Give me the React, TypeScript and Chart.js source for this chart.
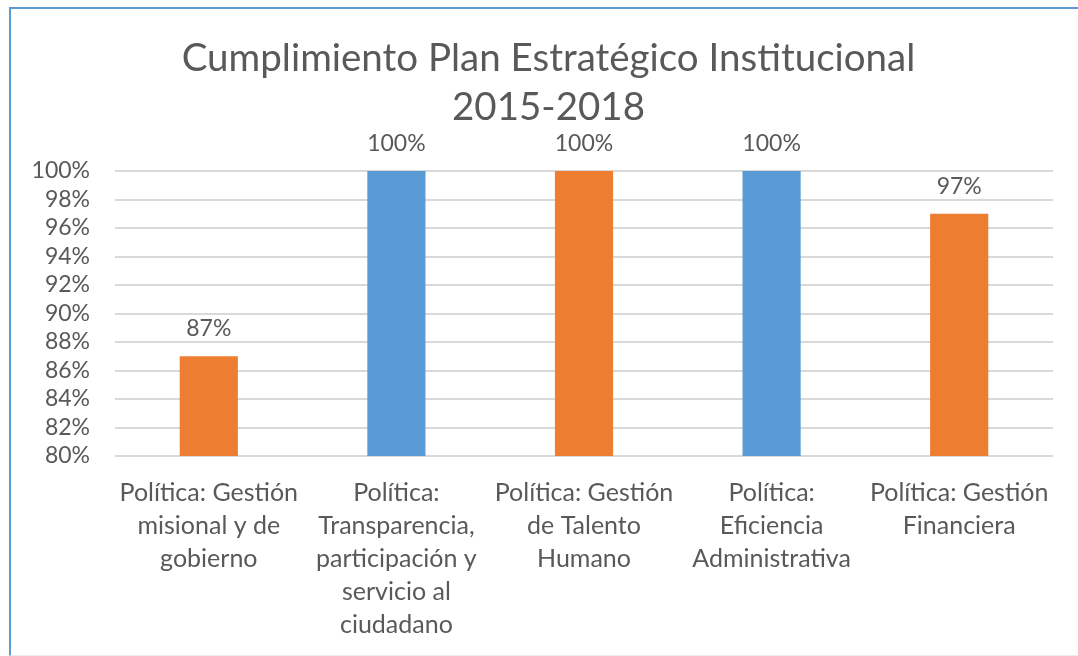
import React, { useEffect, useRef } from 'react';
import { Chart, registerables } from 'chart.js';

Chart.register(...registerables);

const titleLines = ['Cumplimiento Plan Estratégico Institucional', '2015-2018'];
const categories = [
  ['Política: Gestión', 'misional y de', 'gobierno'],
  ['Política:', 'Transparencia,', 'participación y', 'servicio al', 'ciudadano'],
  ['Política: Gestión', 'de Talento', 'Humano'],
  ['Política:', 'Eficiencia', 'Administrativa'],
  ['Política: Gestión', 'Financiera'],
];
const values = [87, 100, 100, 100, 97];
const barColors = ['#ED7D31', '#5B9BD5', '#ED7D31', '#5B9BD5', '#ED7D31'];
const yMin = 80;
const yMax = 100;
const yStep = 2;

const FONT = 'Lato';
const TEXT = '#595959';
const NUM_SIZE = 23;
const CAT_SIZE = 25;
const TITLE_SIZE = 38.5;

const dataLabelPlugin = {
  id: 'barValueLabels',
  afterDatasetsDraw(chart: any) {
    const ctx = chart.ctx;
    const meta = chart.getDatasetMeta(0);
    const data = chart.data.datasets[0].data as number[];
    ctx.save();
    ctx.font = `${NUM_SIZE}px ${FONT}`;
    ctx.fillStyle = TEXT;
    ctx.textAlign = 'center';
    ctx.textBaseline = 'alphabetic';
    meta.data.forEach((bar: any, i: number) => {
      ctx.fillText(`${data[i]}%`, bar.x, bar.y - 20);
    });
    ctx.restore();
  },
};

const titlePlugin = {
  id: 'centeredTitle',
  afterDraw(chart: any) {
    const ctx = chart.ctx;
    ctx.save();
    ctx.font = `${TITLE_SIZE}px ${FONT}`;
    ctx.fillStyle = TEXT;
    ctx.textAlign = 'center';
    ctx.textBaseline = 'alphabetic';
    const cx = 548.5;
    titleLines.forEach((line, i) => {
      ctx.fillText(line, cx, 71 + i * 49);
    });
    ctx.restore();
  },
};

export default function App() {
  const ref = useRef<HTMLCanvasElement | null>(null);

  useEffect(() => {
    let chart: Chart | null = null;
    let cancelled = false;
    const make = () => {
      if (cancelled || !ref.current) return;
      chart = new Chart(ref.current, {
        type: 'bar',
        data: {
          labels: categories as any,
          datasets: [
            {
              data: values,
              backgroundColor: barColors,
              borderWidth: 0,
              categoryPercentage: 1,
              barPercentage: 0.31,
            },
          ],
        },
        options: {
          animation: false,
          responsive: false,
          maintainAspectRatio: false,
          layout: { padding: { left: 0, right: 25, top: 171, bottom: 0 } },
          plugins: {
            legend: { display: false },
            tooltip: { enabled: false },
            title: { display: false },
          },
          scales: {
            x: {
              grid: { display: false, drawTicks: false },
              border: { display: false },
              ticks: {
                color: TEXT,
                font: { family: FONT, size: CAT_SIZE, lineHeight: 33 / CAT_SIZE },
                padding: 20,
                autoSkip: false,
                maxRotation: 0,
                minRotation: 0,
              },
              afterFit: (scale: any) => {
                scale.height = 200;
              },
            },
            y: {
              min: yMin,
              max: yMax,
              grid: { color: '#D9D9D9', lineWidth: 2, drawTicks: false },
              border: { display: false },
              ticks: {
                stepSize: yStep,
                autoSkip: false,
                color: TEXT,
                font: { family: FONT, size: NUM_SIZE },
                padding: 25,
                callback: (v: any) => `${v}%`,
              },
              afterFit: (scale: any) => {
                scale.width = 115;
              },
            },
          },
        },
        plugins: [dataLabelPlugin, titlePlugin],
      });
    };
    const fontsReady = (document as any).fonts
      ? Promise.all([
          (document as any).fonts.load(`${TITLE_SIZE}px ${FONT}`),
          (document as any).fonts.load(`${NUM_SIZE}px ${FONT}`),
        ]).catch(() => null)
      : Promise.resolve();
    fontsReady.then(make);
    return () => {
      cancelled = true;
      if (chart) chart.destroy();
    };
  }, []);

  return (
    <div style={{ position: 'absolute', left: 0, top: 0, width: 1078, height: 656, background: '#ffffff', overflow: 'hidden' }}>
      <div
        style={{
          position: 'absolute',
          left: 9,
          top: 7,
          width: 1067,
          height: 646,
          borderTop: '2px solid #5B9BD5',
          borderLeft: '2px solid #5B9BD5',
          borderBottom: '1px solid #EEEEEE',
        }}
      />
      <canvas ref={ref} width={1078} height={656} style={{ position: 'absolute', left: 0, top: 0, width: 1078, height: 656 }} />
    </div>
  );
}
